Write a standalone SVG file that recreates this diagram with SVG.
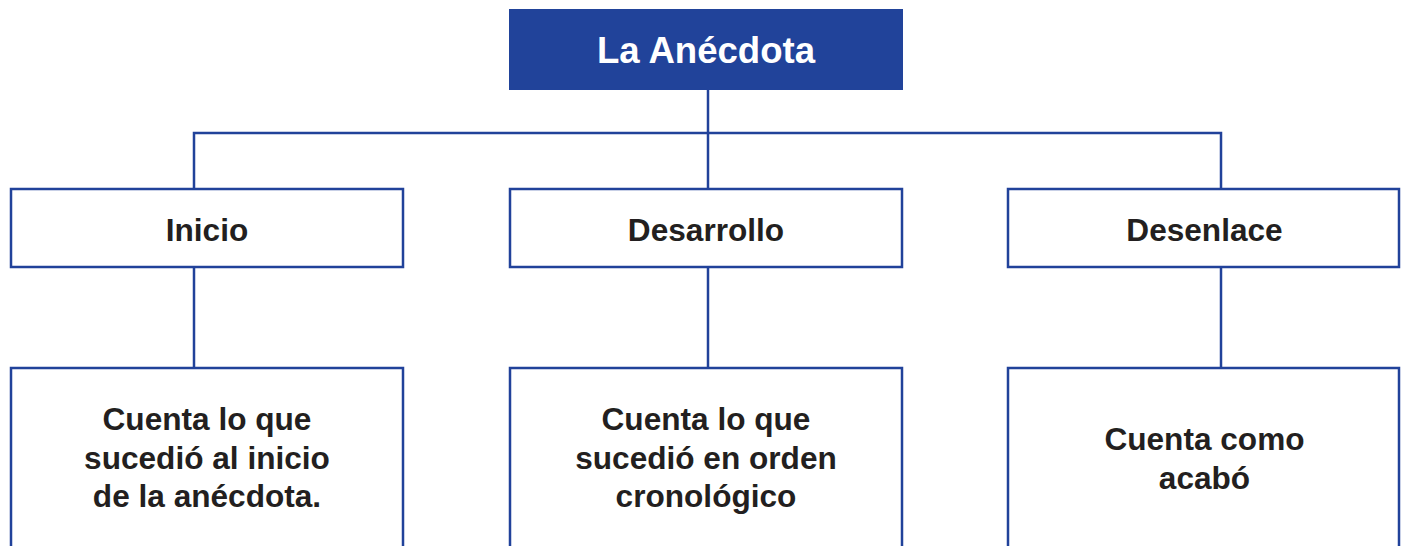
<svg xmlns="http://www.w3.org/2000/svg" width="1406" height="546" viewBox="0 0 1406 546">
<style>
.box{fill:#ffffff;stroke:#21429a;stroke-width:2.5}
.line{fill:none;stroke:#21429a;stroke-width:2.5}
.t{font-family:"Liberation Sans",Arial,sans-serif;font-weight:bold;font-size:31.6px;fill:#231f20;text-anchor:middle}
.title{font-family:"Liberation Sans",Arial,sans-serif;font-weight:bold;font-size:36.6px;fill:#ffffff;text-anchor:middle}
</style>
<rect width="1406" height="546" fill="#ffffff"/>
<g id="connectors">
<path class="line" d="M708 90 V189"/>
<path class="line" d="M194 189 V133 H1221 V189"/>
<path class="line" d="M194 267 V368"/>
<path class="line" d="M708 267 V368"/>
<path class="line" d="M1221 267 V368"/>
</g>
<g id="root">
<rect x="509" y="9" width="394" height="81" fill="#21439a"/>
<text class="title" x="706" y="63">La Anécdota</text>
</g>
<g id="inicio">
<rect class="box" x="11" y="189" width="392" height="78"/>
<text class="t" x="207" y="240.5">Inicio</text>
</g>
<g id="desarrollo">
<rect class="box" x="510" y="189" width="392" height="78"/>
<text class="t" x="706" y="240.5">Desarrollo</text>
</g>
<g id="desenlace">
<rect class="box" x="1008" y="189" width="391" height="78"/>
<text class="t" x="1204.5" y="240.5">Desenlace</text>
</g>
<g id="inicio-desc">
<rect class="box" x="11" y="368" width="392" height="190"/>
<text class="t" x="207" y="430">Cuenta lo que</text>
<text class="t" x="207" y="468.5">sucedió al inicio</text>
<text class="t" x="207" y="507">de la anécdota.</text>
</g>
<g id="desarrollo-desc">
<rect class="box" x="510" y="368" width="392" height="190"/>
<text class="t" x="706" y="430">Cuenta lo que</text>
<text class="t" x="706" y="468.5">sucedió en orden</text>
<text class="t" x="706" y="507">cronológico</text>
</g>
<g id="desenlace-desc">
<rect class="box" x="1008" y="368" width="391" height="190"/>
<text class="t" x="1204.5" y="450">Cuenta como</text>
<text class="t" x="1204.5" y="488.5">acabó</text>
</g>
</svg>
